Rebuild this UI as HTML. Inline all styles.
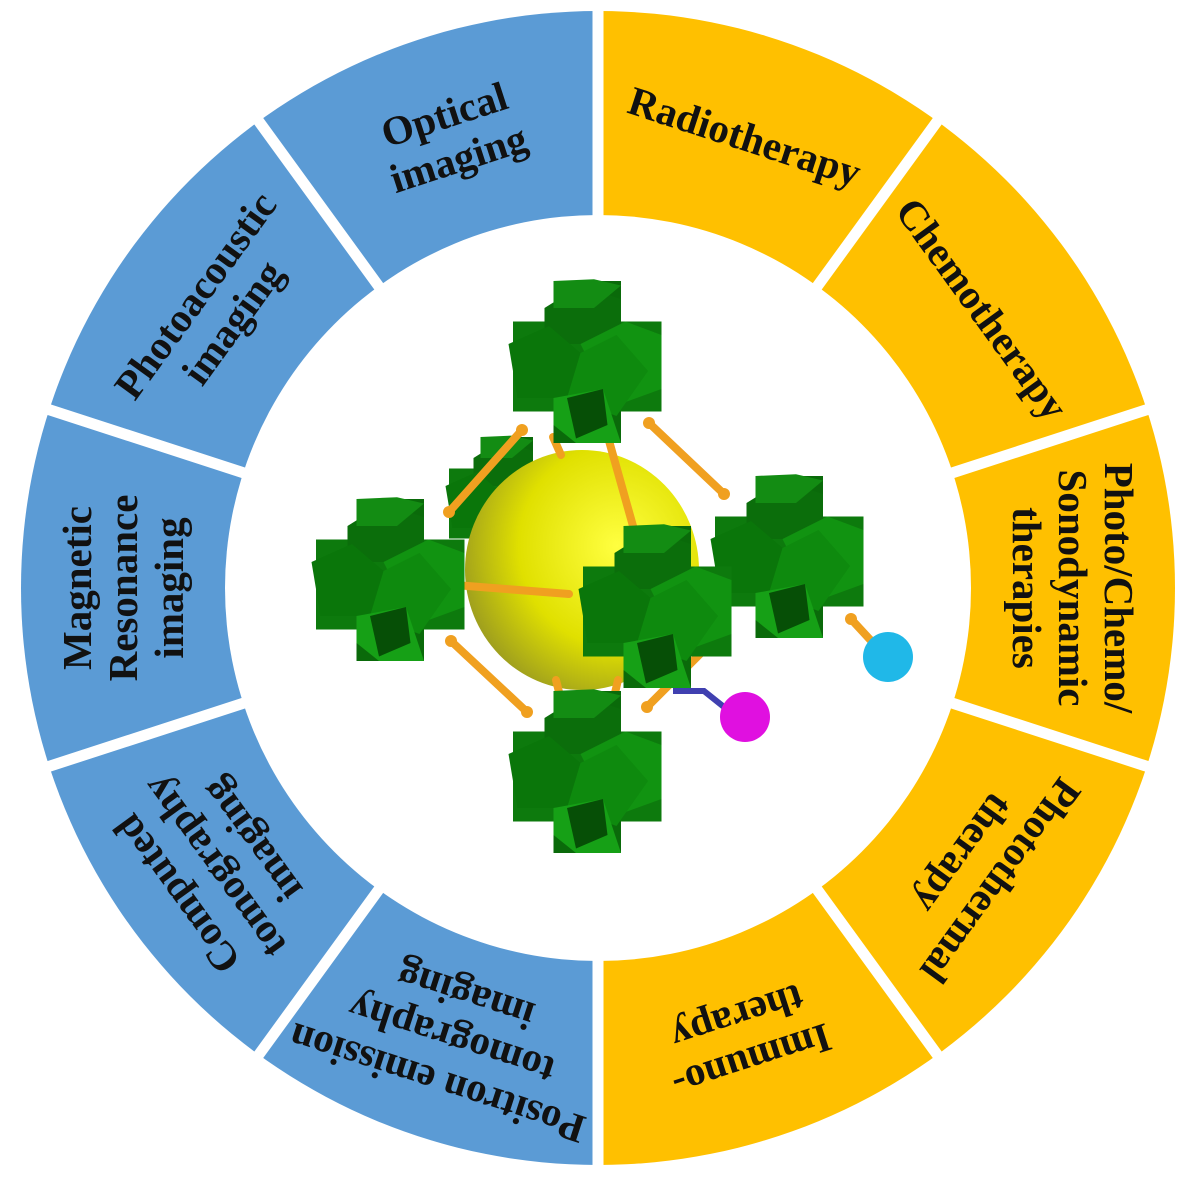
<!DOCTYPE html>
<html><head><style>html,body{margin:0;padding:0;background:#fff}svg{display:block}</style></head>
<body>
<svg width="1187" height="1181" viewBox="0 0 1187 1181" xmlns="http://www.w3.org/2000/svg">
<defs>
<g id="cl">
  <rect x="-35" y="-90" width="75" height="180" fill="#0a6a0a"/>
  <rect x="-80" y="-45" width="165" height="100" fill="#0d7a0d"/>
  <polygon points="-45,-60 -5,-85 40,-70 40,-20 -45,-20" fill="#0b6e0b"/>
  <polygon points="-5,-20 45,-45 85,-30 85,30 30,50" fill="#119311"/>
  <polygon points="-85,-20 -40,-40 -5,-10 -20,40 -75,40" fill="#0a760a"/>
  <polygon points="-5,-10 35,-30 70,10 35,60 -20,40" fill="#0e8a0e"/>
  <polygon points="-35,40 20,30 40,90 -10,90 -35,70" fill="#16a016"/>
  <polygon points="-35,-90 10,-92 40,-85 10,-60 -35,-60" fill="#138c13"/>
  <polygon points="-20,40 20,30 25,70 -10,85" fill="#064f06"/>
</g>
<radialGradient id="yg" cx="0.65" cy="0.4" r="0.7"><stop offset="0" stop-color="#ffff40"/><stop offset="0.6" stop-color="#e0e000"/><stop offset="1" stop-color="#9a9a20"/></radialGradient>
</defs>
<path d="M598,11 A577,577 0 0 0 598,1165 Z" fill="#5b9bd5"/>
<path d="M598,11 A577,577 0 0 1 598,1165 Z" fill="#ffc000"/>
<g stroke="#fff" stroke-width="11">
<line x1="598" y1="-12" x2="598" y2="1188"/>
<line x1="950.8" y1="102.6" x2="245.2" y2="1073.4"/>
<line x1="1168.6" y1="402.6" x2="27.4" y2="773.4"/>
<line x1="1168.6" y1="773.4" x2="27.4" y2="402.6"/>
<line x1="950.8" y1="1073.4" x2="245.2" y2="102.6"/>
</g>
<circle cx="598" cy="588" r="373" fill="#fff"/>

<g font-family="Liberation Serif, serif" font-weight="bold" font-size="41" fill="#111" text-anchor="middle" dominant-baseline="central">
<text transform="translate(744.8,136.3) rotate(18)">Radiotherapy</text>
<text transform="translate(982.3,308.7) rotate(54)">Chemotherapy</text>
<text transform="translate(1073,588) rotate(90)"><tspan x="0" y="-46">Photo/Chemo/</tspan><tspan x="0" y="0">Sonodynamic</tspan><tspan x="0" y="46">therapies</tspan></text>
<text transform="translate(982.3,867.3) rotate(126)"><tspan x="0" y="-23">Photothermal</tspan><tspan x="0" y="23">therapy</tspan></text>
<text transform="translate(744.8,1039.7) rotate(162)"><tspan x="0" y="-23">Immuno-</tspan><tspan x="0" y="23">therapy</tspan></text>
<text transform="translate(451.2,1039.7) rotate(198)"><tspan x="0" y="-46">Positron emission</tspan><tspan x="0" y="0">tomography</tspan><tspan x="0" y="46">imaging</tspan></text>
<text transform="translate(213.7,867.3) rotate(234)"><tspan x="0" y="-46">Computed</tspan><tspan x="0" y="0">tomography</tspan><tspan x="0" y="46">imaging</tspan></text>
<text transform="translate(123,588) rotate(270)"><tspan x="0" y="-46">Magnetic</tspan><tspan x="0" y="0">Resonance</tspan><tspan x="0" y="46">imaging</tspan></text>
<text transform="translate(213.7,308.7) rotate(306)"><tspan x="0" y="-23">Photoacoustic</tspan><tspan x="0" y="23">imaging</tspan></text>
<text transform="translate(451.2,136.3) rotate(342)"><tspan x="0" y="-23">Optical</tspan><tspan x="0" y="23">imaging</tspan></text>
</g>

<!-- molecule -->
<use href="#cl" transform="translate(505,500) scale(0.7)"/>
<ellipse cx="582" cy="570" rx="117" ry="120" fill="url(#yg)"/>
<g stroke="#f0a020" stroke-width="8" stroke-linecap="round" fill="none">
<line x1="522" y1="430" x2="449" y2="512"/>
<line x1="649" y1="423" x2="724" y2="494"/>
<line x1="451" y1="641" x2="527" y2="712"/>
<line x1="647" y1="707" x2="724" y2="630"/>
<line x1="604" y1="423" x2="633" y2="526"/>
<line x1="455" y1="585" x2="569" y2="594"/>
<line x1="724" y1="573" x2="765" y2="569"/>
<line x1="618" y1="680" x2="608" y2="723"/>
<line x1="553" y1="437" x2="561" y2="455"/>
<line x1="556" y1="680" x2="561" y2="700"/>
<line x1="851" y1="619" x2="875" y2="645"/>
</g>
<g fill="#f0a020">
<circle cx="522" cy="430" r="6"/><circle cx="649" cy="423" r="6"/><circle cx="724" cy="494" r="6"/>
<circle cx="449" cy="512" r="6"/><circle cx="451" cy="641" r="6"/><circle cx="527" cy="712" r="6"/>
<circle cx="647" cy="707" r="6"/><circle cx="724" cy="630" r="6"/><circle cx="851" cy="619" r="6"/>
</g>
<use href="#cl" transform="translate(585,362) scale(0.9)"/>
<use href="#cl" transform="translate(388,580) scale(0.9)"/>
<use href="#cl" transform="translate(787,557) scale(0.9)"/>
<use href="#cl" transform="translate(655,607) scale(0.9)"/>
<use href="#cl" transform="translate(585,772) scale(0.9)"/>
<path d="M673,691 L704,691 L724,707" stroke="#4040b0" stroke-width="6" fill="none"/>
<circle cx="745" cy="717" r="25" fill="#e010e0"/>
<circle cx="888" cy="657" r="25" fill="#20b8e8"/>
</svg>
</body></html>
